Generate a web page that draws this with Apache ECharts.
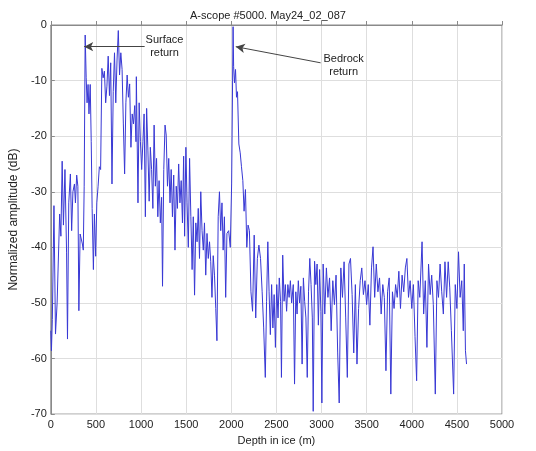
<!DOCTYPE html>
<html><head><meta charset="utf-8">
<script src="https://cdn.jsdelivr.net/npm/echarts@6/dist/echarts.min.js"></script>
<style>html,body{margin:0;padding:0;background:#fff}#c{width:536px;height:451px}</style>
</head><body><div id="c"></div>
<script>
const titleText = 'A-scope #5000. May24_02_087';
const xAxisName = 'Depth in ice (m)';
const yAxisName = 'Normalized amplitude (dB)';
const depthM = [0,7,17,35,52,70,98,112,126,140,157,175,185,199,217,231,245,262,273,287,300,311,325,350,360,370,381,392,402,413,423,437,448,458,472,483,497,510,524,538,552,566,580,594,608,622,636,650,664,678,692,706,720,734,748,762,776,790,804,818,832,846,860,874,888,902,916,930,944,
948,966,979,993,1007,1021,1034,1048,1062,1076,1090,1103,1117,1131,1145,1159,1172,1186,1200,1214,1228,1238,1252,1266,1279,1293,1307,1321,1334,1348,1362,1376,1390,1403,1417,1431,1445,1459,1472,1483,1497,1510,1524,1538,1552,1566,1579,1593,1607,1621,1634,1648,1662,1676,1690,1703,1717,1731,1745,1759,1772,1786,1800,1814,1828,1841,1855,1869,1883,1897,1910,1924,1938,1952,1971,1989,
2004,2020,2026,2036,2047,2058,2069,2084,2099,2113,2128,2142,2157,2172,2186,2201,2218,2236,2254,2271,2289,2306,2324,2342,2359,2377,2391,2405,2419,2433,2447,2461,2475,2489,2504,2518,2532,2546,2556,2570,2585,2599,2613,2627,2641,2655,2669,2687,2701,2715,2729,2743,2757,2771,2785,2799,2813,2827,2842,2856,2870,2884,2898,2908,2923,2937,2951,2965,2979,2993,
3004,3018,3036,3054,3071,3089,3107,3125,3143,3161,3179,3196,3214,3232,3250,3268,3286,3304,3321,3339,3357,3375,3393,3411,3429,3446,3464,3482,3500,3518,3536,3554,3571,3589,3607,3625,3643,3661,3679,3696,3714,3732,3750,3768,3786,3804,3821,3839,3857,3875,3893,3911,3929,3946,3964,3982,
4000,4018,4036,4054,4071,4089,4114,4132,4150,4168,4186,4204,4221,4239,4261,4279,4296,4314,4332,4350,4368,4386,4404,4421,4439,4464,4482,4500,4518,4536,4554,4571,4582,4595,4607];
const ampDb = [-55,-58.6,-53,-32.5,-55.6,-50,-34,-38,-24.5,-36,-26,-41,-56.5,-32,-26.8,-37,-30,-28.6,-32,-27,-29,-51.4,-37.6,-39.4,-40.5,-29,-1.8,-9.5,-14,-10.7,-16,-10.7,-21,-33,-44,-34,-41.6,-32,-29,-25.5,-26,-7.8,-9.5,-8.3,-14,-11,-5.6,-12.7,-6.8,-28.6,-12,-5,-14,-6.3,-1,-9,-5,-8,-17.8,-26.8,-14,-9,-13,-10.6,-22,-16,-17.8,-14.5,-21,
-9.3,-32,-14,-21,-26,-21,-16,-34.5,-15,-22.5,-31.7,-22,-26,-33,-18,-29,-24,-34.5,-28,-35.6,-31,-47,-26,-18,-19.8,-29,-24,-32,-26,-34.5,-27,-40.5,-29,-33,-25,-32,-28,-35.6,-23.6,-38,-22,-32,-40,-24,-34.5,-44,-34.5,-48.6,-35.6,-39,-33,-42,-30,-37,-40.5,-35.6,-45,-37.5,-42,-39,-42.5,-49,-41.5,-45,-51,-56.8,-34.5,-30,-37,-32,-40.5,-34.5,-49,-37.5,-37,-40,
-28.6,-0.3,-7.5,-10.4,-8,-13,-12,-21.4,-23,-25.5,-28,-33.5,-29.6,-40,-36,-37,-48,-51.5,-37.8,-52.7,-42,-39.6,-42,-48,-54.5,-63.4,-49.7,-39,-48,-55.7,-46.7,-54.5,-48.5,-58,-46.7,-52.7,-45.5,-49.7,-63.4,-41.4,-49.7,-46.7,-51.5,-46.7,-49,-46,-50,-46.7,-64.6,-48,-52,-46,-50,-47,-61,-45.5,-49.7,-52.7,-63.4,-48,-42,-46.7,-52.7,-69.5,-42.5,-46.7,-43,-54,-44,-51.5,
-68,-43,-52,-43.7,-49,-45.5,-55,-46,-50.3,-45,-59,-68,-43.7,-49,-42.6,-52.7,-63.4,-43,-42,-48.5,-59,-46.7,-61,-51,-46,-43.7,-48.5,-46,-50.3,-46.7,-54,-43.7,-39.9,-49,-43,-48,-45.5,-52,-46.7,-49,-62.2,-48,-45.5,-66.4,-48,-51,-46.7,-49,-44.3,-51,-45,-48,-43.7,-42,-49,-46,
-51,-46.7,-56,-64,-46,-49,-39,-52,-46,-58,-43,-48.5,-45,-50.3,-66.4,-46,-49,-43,-48,-52,-42.6,-49,-42.6,-47.3,-55,-66.4,-46.7,-51,-40.8,-49,-46,-55,-43,-58.6,-61];
const xTicks = {min: 0, max: 5000, interval: 500};
const yTicks = {min: -70, max: 0, interval: 10};
const annotations = [
  {text: 'Surface\nreturn', label: [1260, -3.8], from: [1040, -3.9], to: [370, -3.9]},
  {text: 'Bedrock\nreturn', label: [3245, -7.3], from: [2990, -6.8], to: [2050, -3.9]}
];

const points = depthM.map((d, i) => [d, ampDb[i]]);
const font = 'Liberation Sans, Arial, sans-serif';
const chart = echarts.init(document.getElementById('c'), null, {renderer: 'canvas'});
const axisCommon = {
  axisLine: {show: true, lineStyle: {color: '#8a8a8a', width: 1}},
  axisTick: {show: true, inside: true, length: 4, lineStyle: {color: '#8a8a8a'}},
  splitLine: {show: true, lineStyle: {color: '#dedede', width: 1}}
};
const labelStyle = {color: '#222', fontFamily: font, fontSize: 11, formatter: v => String(v)};
chart.setOption({
  animation: false,
  backgroundColor: '#fff',
  title: {text: titleText, left: 'center', top: 5, textStyle: {fontFamily: font, fontSize: 11, fontWeight: 'normal', color: '#222'}},
  grid: {left: 48, top: 25, width: 454, height: 393, show: true, borderColor: '#8a8a8a', borderWidth: 1, backgroundColor: 'transparent'},
  xAxis: Object.assign({type: 'value', name: xAxisName, nameLocation: 'middle', nameGap: 18,
    nameTextStyle: {color: '#222', fontFamily: font, fontSize: 11},
    axisLabel: Object.assign({}, labelStyle, {margin: 5})}, xTicks, axisCommon),
  yAxis: Object.assign({type: 'value', name: yAxisName, nameLocation: 'middle', nameGap: 28,
    nameTextStyle: {color: '#222', fontFamily: font, fontSize: 12},
    axisLabel: Object.assign({}, labelStyle, {margin: 4})}, yTicks, axisCommon),
  series: [{
    type: 'line', data: points, showSymbol: false, symbol: 'none',
    lineStyle: {color: '#3838d4', width: 1},
    markLine: {
      silent: true, symbol: ['none', 'arrow'], symbolSize: [7, 9],
      lineStyle: {color: '#444', width: 1, type: 'solid'},
      label: {show: false},
      data: annotations.map(a => [{coord: a.from}, {coord: a.to}])
    },
    markPoint: {
      silent: true, symbol: 'circle', symbolSize: 0,
      label: {show: true, position: 'inside', color: '#222', fontFamily: font, fontSize: 11, lineHeight: 13, align: 'center'},
      data: annotations.map(a => ({coord: a.label, label: {formatter: a.text}}))
    }
  }]
});
</script></body></html>
